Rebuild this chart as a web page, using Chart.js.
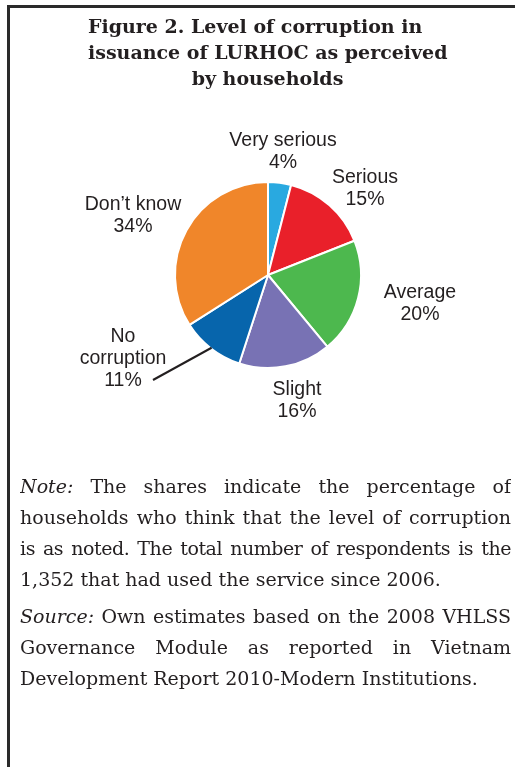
<!DOCTYPE html>
<html>
<head>
<meta charset="utf-8">
<script src="https://cdn.jsdelivr.net/npm/chart.js@4/dist/chart.umd.min.js"></script>
<style>
  html, body { margin: 0; padding: 0; background: #fff; }
  body { width: 515px; height: 767px; position: relative; overflow: hidden; }
  #frame {
    position: absolute; left: 7px; top: 5px; width: 530px; height: 800px;
    border-left: 3px solid #2a2a2a; border-top: 3px solid #2a2a2a;
  }
  #pie { position: absolute; left: 0; top: 0; }
  .title {
    position: absolute; left: 88px;
    font-family: "DejaVu Serif", serif; font-weight: bold; font-size: 19px;
    color: #231f20; white-space: nowrap;
  }
  .body {
    position: absolute; left: 20px; width: 491px;
    font-family: "DejaVu Serif", serif; font-size: 19px; color: #231f20;
  }
  .body div { height: 31px; line-height: 31px; white-space: nowrap; overflow: hidden; }
  .body div.j { text-align: justify; text-align-last: justify; white-space: normal; }
</style>
</head>
<body>
<div id="frame"></div>
<canvas id="pie" width="515" height="767"></canvas>

<div class="title" style="top:15px">Figure 2. Level of corruption in</div>
<div class="title" style="top:41px">issuance of LURHOC as perceived</div>
<div class="title" style="top:67px; left:0; width:535px; text-align:center">by households</div>

<div class="body" style="top:471px">
  <div class="j"><i>Note:</i> The shares indicate the percentage of</div>
  <div class="j">households who think that the level of corruption</div>
  <div class="j" style="letter-spacing:-0.45px">is as noted. The total number of respondents is the</div>
  <div>1,352 that had used the service since 2006.</div>
</div>
<div class="body" style="top:601px">
  <div class="j"><i>Source:</i> Own estimates based on the 2008 VHLSS</div>
  <div class="j">Governance Module as reported in Vietnam</div>
  <div>Development Report 2010-Modern Institutions.</div>
</div>

<script>
// shares of households by perceived level of corruption (%)
const categories = ["Very serious", "Serious", "Average", "Slight", "No corruption", "Don\u2019t know"];
const shares = [4, 15, 20, 16, 11, 34];
const sliceColors = ["#29a9e0", "#e9202a", "#4db84e", "#7872b4", "#0765ac", "#f0862a"];

// label text lines + centre offsets from the pie centre (layout only)
const labelLines = [
  ["Very serious"], ["Serious"], ["Average"], ["Slight"], ["No", "corruption"], ["Don\u2019t know"]
];
const labelOffsets = [
  [15, -134], [97, -97], [152, 18], [29, 115], [-145, 62], [-135, -70]
];
const leaderEnd = [-115, 105]; // only "No corruption" has a leader line

const pieLabels = {
  id: "pieLabels",
  afterDatasetsDraw(chart) {
    const ctx = chart.ctx;
    const meta = chart.getDatasetMeta(0);
    const cx = meta.data[0].x, cy = meta.data[0].y;
    ctx.save();
    ctx.fillStyle = "#231f20";
    ctx.font = "19.5px 'Liberation Sans', Arial, sans-serif";
    ctx.textAlign = "center";
    ctx.textBaseline = "middle";
    const lh = 22;
    shares.forEach((v, i) => {
      const lines = labelLines[i].concat([v + "%"]);
      const [dx, dy] = labelOffsets[i];
      lines.forEach((t, k) => ctx.fillText(t, cx + dx, cy + dy + k * lh));
    });

    // leader line for "No corruption"
    const arc = meta.data[4];
    const mid = (arc.startAngle + arc.endAngle) / 2;
    const r = arc.outerRadius * 0.99;
    ctx.strokeStyle = "#231f20";
    ctx.lineWidth = 2;
    ctx.beginPath();
    ctx.moveTo(cx + Math.cos(mid) * r, cy + Math.sin(mid) * r);
    ctx.lineTo(cx + leaderEnd[0], cy + leaderEnd[1]);
    ctx.stroke();
    ctx.restore();
  }
};

new Chart(document.getElementById("pie"), {
  type: "pie",
  data: {
    labels: categories,
    datasets: [{
      data: shares,
      backgroundColor: sliceColors,
      borderColor: "#ffffff",
      borderWidth: 2
    }]
  },
  options: {
    responsive: false,
    animation: false,
    layout: { padding: { left: 174, right: 153, top: 181, bottom: 398 } },
    plugins: { legend: { display: false }, tooltip: { enabled: false } }
  },
  plugins: [pieLabels]
});
</script>
</body>
</html>
